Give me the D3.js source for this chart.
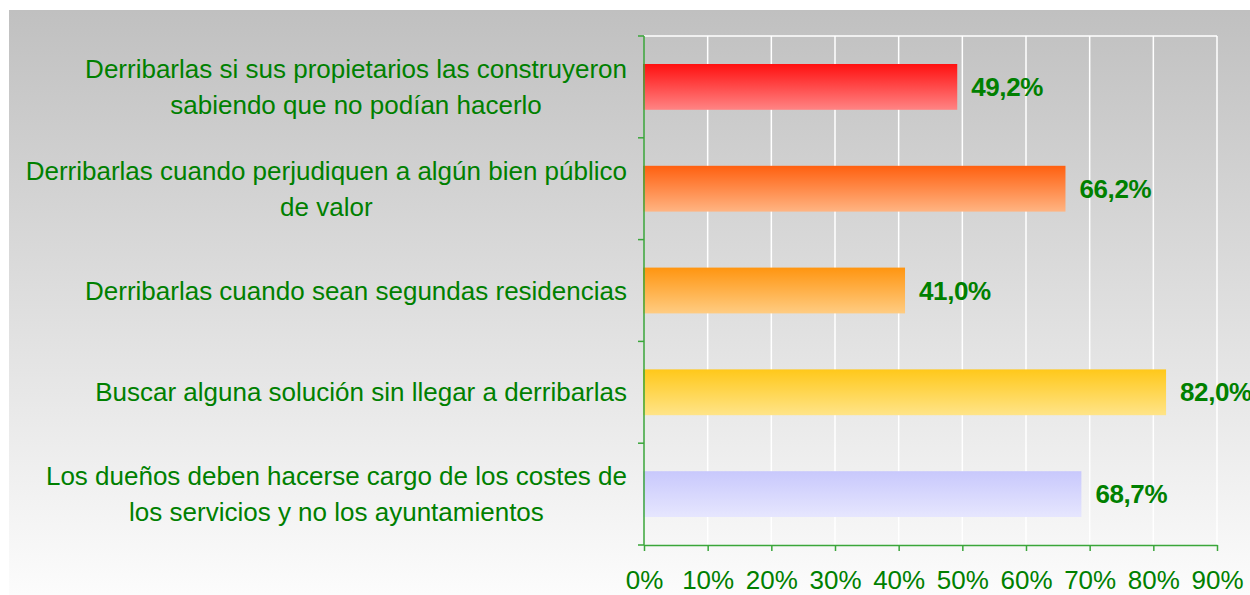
<!DOCTYPE html>
<html lang="es">
<head>
  <meta charset="UTF-8" />
  <script src="https://d3js.org/d3.v7.min.js"></script>
  <style>
    body { margin: 0; background: #fff; }
    svg { display: block; font-family: "Liberation Sans", Arial, sans-serif; }
  </style>
</head>
<body>
  <div id="chart"></div>
  <script>
    // data
    const categories = [
      ["Derribarlas si sus propietarios las construyeron", "sabiendo que no podían hacerlo"],
      ["Derribarlas cuando perjudiquen a algún bien público", "de valor"],
      ["Derribarlas cuando sean segundas residencias"],
      ["Buscar alguna solución sin llegar a derribarlas"],
      ["Los dueños deben hacerse cargo de los costes de", "los servicios y no los ayuntamientos"]
    ];
    const values = [49.2, 66.2, 41.0, 82.0, 68.7];
    const valueLabels = ["49,2%", "66,2%", "41,0%", "82,0%", "68,7%"];
    const xTicks = [0, 10, 20, 30, 40, 50, 60, 70, 80, 90];
    const barColors = [
      ["#ff1010", "#ff8484"],
      ["#ff6010", "#ffb482"],
      ["#ff9510", "#ffcc82"],
      ["#ffc81a", "#ffe488"],
      ["#c8c8fc", "#e6e6fe"]
    ];

    const width = 1250, height = 595;
    const margin = { top: 36, right: 33, bottom: 50, left: 644 };
    const green = "#008000";

    const svg = d3.select("#chart").append("svg")
      .attr("width", width)
      .attr("height", height);

    const defs = svg.append("defs");
    const bg = defs.append("linearGradient")
      .attr("id", "bg").attr("x1", 0).attr("y1", 0).attr("x2", 0).attr("y2", 1);
    bg.append("stop").attr("offset", "0%").attr("stop-color", "#c0c0c0");
    bg.append("stop").attr("offset", "100%").attr("stop-color", "#fcfcfc");

    barColors.forEach((c, i) => {
      const g = defs.append("linearGradient")
        .attr("id", "bar" + i).attr("x1", 0).attr("y1", 0).attr("x2", 0).attr("y2", 1);
      g.append("stop").attr("offset", "0%").attr("stop-color", c[0]);
      g.append("stop").attr("offset", "100%").attr("stop-color", c[1]);
    });

    // panel background
    svg.append("rect")
      .attr("x", 9).attr("y", 10)
      .attr("width", width - 9).attr("height", height - 10)
      .attr("fill", "url(#bg)");

    const x = d3.scaleLinear()
      .domain([0, 90])
      .range([margin.left, width - margin.right]);

    const y = d3.scaleBand()
      .domain(d3.range(categories.length))
      .range([margin.top, height - margin.bottom])
      .paddingInner(0.55)
      .paddingOuter(0.275);

    // gridlines
    svg.append("g")
      .selectAll("line")
      .data(xTicks.slice(1))
      .join("line")
      .attr("x1", d => x(d)).attr("x2", d => x(d))
      .attr("y1", margin.top).attr("y2", height - margin.bottom)
      .attr("stroke", "#fff")
      .attr("stroke-width", 1.5);

    svg.append("line")
      .attr("x1", margin.left).attr("x2", width - margin.right)
      .attr("y1", margin.top).attr("y2", margin.top)
      .attr("stroke", "#fff")
      .attr("stroke-width", 1.5);

    // bars
    svg.append("g")
      .selectAll("rect")
      .data(values)
      .join("rect")
      .attr("x", x(0) - 1)
      .attr("y", (d, i) => y(i))
      .attr("width", d => x(d) - x(0) + 1)
      .attr("height", y.bandwidth())
      .attr("fill", (d, i) => `url(#bar${i})`);

    // value labels
    svg.append("g")
      .selectAll("text")
      .data(values)
      .join("text")
      .attr("x", d => x(d) + 14)
      .attr("y", (d, i) => y(i) + y.bandwidth() / 2)
      .attr("dy", "0.35em")
      .attr("fill", green)
      .attr("font-size", "26px")
      .attr("font-weight", "bold")
      .attr("letter-spacing", "-0.4px")
      .text((d, i) => valueLabels[i]);

    // x axis
    const xAxis = svg.append("g")
      .attr("transform", `translate(0,${height - margin.bottom})`)
      .call(d3.axisBottom(x).tickValues(xTicks).tickSize(6).tickSizeOuter(0).tickPadding(20)
        .tickFormat(d => d + "%"));
    xAxis.select(".domain").attr("stroke", "#3aa63a").attr("stroke-width", 1.5);
    xAxis.selectAll(".tick line").attr("stroke", "#3aa63a").attr("stroke-width", 1.5);
    xAxis.selectAll("text")
      .attr("fill", green)
      .attr("font-size", "26px")
      .attr("font-family", "Liberation Sans, Arial, sans-serif");

    // y axis line and category boundary ticks
    const yTickPos = d3.range(categories.length + 1)
      .map(i => margin.top + i * (height - margin.bottom - margin.top) / categories.length);
    svg.append("line")
      .attr("x1", margin.left).attr("x2", margin.left)
      .attr("y1", margin.top).attr("y2", height - margin.bottom)
      .attr("stroke", "#3aa63a").attr("stroke-width", 1.5);
    svg.append("g")
      .selectAll("line")
      .data(yTickPos)
      .join("line")
      .attr("x1", margin.left - 6).attr("x2", margin.left)
      .attr("y1", d => d).attr("y2", d => d)
      .attr("stroke", "#3aa63a").attr("stroke-width", 1.5);

    // category labels (block right-aligned, lines centered)
    const lineH = 36;
    categories.forEach((lines, i) => {
      const cy = y(i) + y.bandwidth() / 2;
      const t = svg.append("text")
        .attr("fill", green)
        .attr("font-size", "26px")
        .attr("text-anchor", "middle");
      lines.forEach((l, j) => {
        t.append("tspan")
          .attr("x", 0)
          .attr("y", cy + (j - (lines.length - 1) / 2) * lineH)
          .attr("dy", "0.35em")
          .text(l);
      });
      const w = t.node().getBBox().width;
      t.attr("transform", `translate(${627 - w / 2},0)`);
    });
  </script>
</body>
</html>
